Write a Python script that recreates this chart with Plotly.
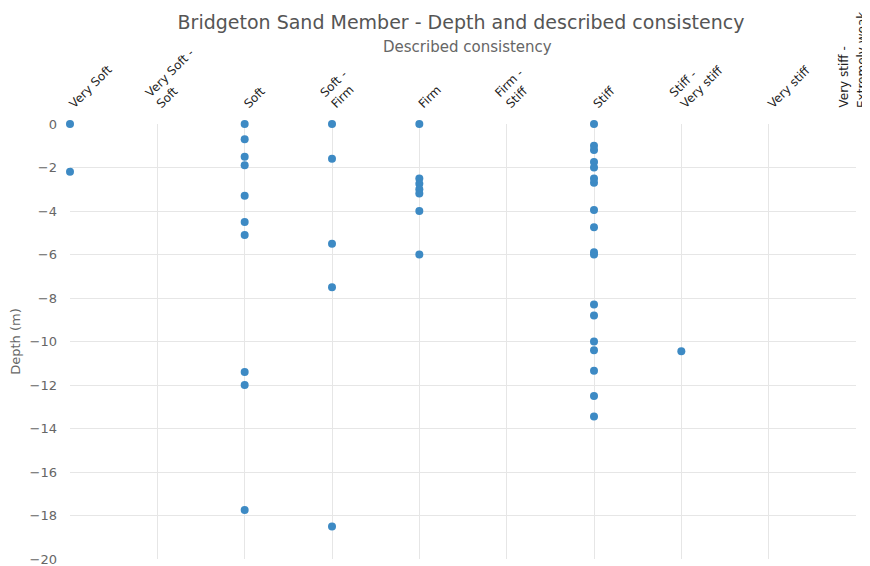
import plotly.graph_objects as go

categories = ["Very Soft", "Very Soft -<br>Soft", "Soft", "Soft -<br>Firm", "Firm",
              "Firm -<br>Stiff", "Stiff", "Stiff -<br>Very stiff", "Very stiff",
              "Very stiff -<br>Extremely weak"]

very_soft = [0, -2.2]
soft = [0, -0.7, -1.5, -1.9, -3.3, -4.5, -5.1, -11.4, -12.0, -17.75]
soft_firm = [0, -1.6, -5.5, -7.5, -18.5]
firm = [0, -2.5, -2.75, -3.0, -3.2, -4.0, -6.0]
stiff = [0, -1.0, -1.2, -1.75, -2.0, -2.5, -2.7, -3.95, -4.75, -5.9, -6.0,
         -8.3, -8.8, -10.0, -10.4, -11.35, -12.5, -13.45]
stiff_very_stiff = [-10.45]

series = [("Very Soft", very_soft), ("Soft", soft), ("Soft -<br>Firm", soft_firm),
          ("Firm", firm), ("Stiff", stiff), ("Stiff -<br>Very stiff", stiff_very_stiff)]

xs, ys = [], []
for cat, vals in series:
    for v in vals:
        xs.append(categories.index(cat))
        ys.append(v)

fig = go.Figure()
fig.add_trace(go.Scatter(
    x=xs, y=ys, mode="markers",
    marker=dict(color="#3d8ac4", size=8),
    cliponaxis=False, showlegend=False,
))

# the page body adds an 8px offset; margins compensate for it
W, H, L, R, T, B = 870, 566, 62, 22, 116, 15
ph = H - T - B
pw = W - L - R

def paper_y(px):
    return (H - B - px) / ph

FONT = "DejaVu Sans, Verdana, sans-serif"
ticktext = categories[:-1] + [""]

# last category label drawn vertically, one annotation per line
last_lines = categories[-1].split("<br>")
last_shifts = [-13, 6]
last_annots = [
    dict(text=line, x=len(categories) - 1, xref="x", y=1, yref="paper",
         yshift=14, xshift=dx, textangle=-90, showarrow=False,
         xanchor="center", yanchor="bottom",
         font=dict(size=12, color="#222222"))
    for line, dx in zip(last_lines, last_shifts)
]

fig.update_layout(
    width=W, height=H,
    margin=dict(l=L, r=R, t=T, b=B),
    paper_bgcolor="white", plot_bgcolor="white",
    font=dict(family=FONT, color="#666666"),
    title=dict(text="Bridgeton Sand Member - Depth and described consistency",
               x=453 / W, xanchor="center", y=1 - 14 / H, yanchor="middle",
               yref="container", font=dict(size=19, color="#555555")),
    xaxis=dict(range=[0, 9], side="top", tickmode="array",
               tickvals=list(range(10)), ticktext=ticktext, tickangle=-45,
               showgrid=True, gridcolor="#e6e6e6", zeroline=False,
               tickfont=dict(size=12, color="#222222"), ticks="",
               ticklabelstandoff=10,
               showline=False, automargin=False),
    yaxis=dict(range=[-20, 0], dtick=2, showgrid=True, gridcolor="#e6e6e6",
               zeroline=False, tickfont=dict(size=13, color="#666666"),
               ticklabelstandoff=12,
               title=dict(text="Depth (m)", font=dict(size=13, color="#666666"),
                          standoff=8),
               ticks="", showline=False, automargin=False),
    annotations=[
        dict(text="Described consistency", x=(459.5 - L) / pw, xref="paper",
             y=paper_y(39), yref="paper", showarrow=False,
             font=dict(size=15, color="#666666"),
             xanchor="center", yanchor="middle"),
    ] + last_annots,
)

fig.write_html("out.html")
